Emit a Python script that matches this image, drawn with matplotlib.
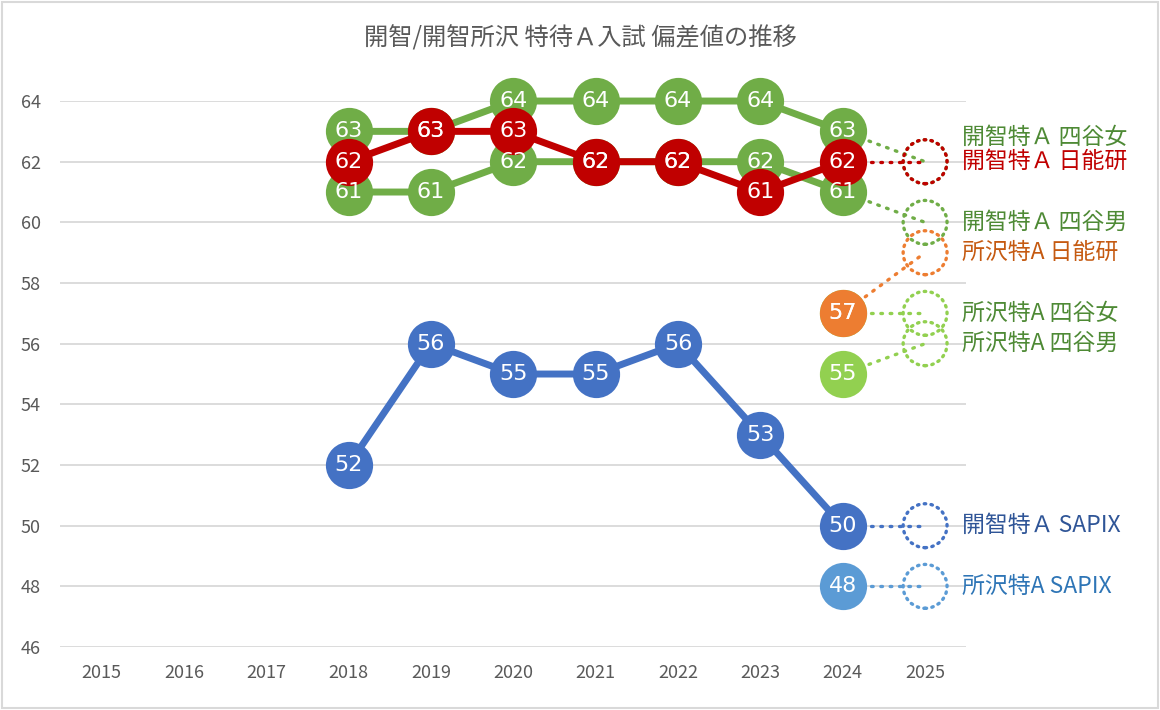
import matplotlib
matplotlib.use("Agg")
import matplotlib.pyplot as plt
from matplotlib.patches import Rectangle

plt.rcParams['font.family'] = ['Noto Sans CJK JP', 'DejaVu Sans']

years = ['2015', '2016', '2017', '2018', '2019', '2020', '2021', '2022', '2023', '2024', '2025']
title = '開智/開智所沢 特待Ａ入試 偏差値の推移'

# series values (None = no data); last entry (2025) is the dotted projection
kaichi_yotsuya_f = [None, None, None, 63, 63, 64, 64, 64, 64, 63, 62]
kaichi_yotsuya_m = [None, None, None, 61, 61, 62, 62, 62, 62, 61, 60]
kaichi_nichinoken = [None, None, None, 62, 63, 63, 62, 62, 61, 62, 62]
kaichi_sapix = [None, None, None, 52, 56, 55, 55, 56, 53, 50, 50]
tokorozawa_nichinoken = [None] * 9 + [57, 59]
tokorozawa_yotsuya_f = [None] * 9 + [57, 57]
tokorozawa_yotsuya_m = [None] * 9 + [55, 56]
tokorozawa_sapix = [None] * 9 + [48, 48]

labels = ['開智特Ａ 四谷女', '開智特Ａ 四谷男', '開智特Ａ 日能研', '開智特Ａ SAPIX',
          '所沢特A 日能研', '所沢特A 四谷女', '所沢特A 四谷男', '所沢特A SAPIX']

# (values, label, marker colour, label colour, label y offset)
series = [
    (kaichi_yotsuya_f, labels[0], '#70AD47', '#4E8A35', 0.8),
    (kaichi_yotsuya_m, labels[1], '#70AD47', '#4E8A35', 0.0),
    (tokorozawa_yotsuya_f, labels[5], '#92D050', '#4E8A35', 0.0),
    (tokorozawa_yotsuya_m, labels[6], '#92D050', '#4E8A35', 0.0),
    (tokorozawa_nichinoken, labels[4], '#ED7D31', '#C55A11', 0.0),
    (kaichi_nichinoken, labels[2], '#C00000', '#C00000', 0.0),
    (kaichi_sapix, labels[3], '#4472C4', '#2F5597', 0.0),
    (tokorozawa_sapix, labels[7], '#5B9BD5', '#2E75B6', 0.0),
]

fig = plt.figure(figsize=(11.6, 7.1), dpi=100)
ax = fig.add_axes([0.052, 0.0887, 0.781, 0.769])
ax.set_xlim(-0.5, len(years) - 0.5)
ax.set_ylim(46, 64)
ax.set_yticks(range(46, 65, 2))
ax.set_xticks(range(len(years)))
ax.set_xticklabels(years)
for s in ax.spines.values():
    s.set_visible(False)
ax.grid(axis='y', color='#D9D9D9', linewidth=1.3)
ax.set_axisbelow(True)
ax.tick_params(axis='both', length=0, labelsize=13, labelcolor='#595959')
ax.tick_params(axis='x', pad=12)
ax.tick_params(axis='y', pad=14)

ms = 34
dots = (0, (0.5, 2.3))
ring_dots = (0, (0.45, 1.6))
texts = []
for k, (vals, lab, col, lcol, off) in enumerate(series):
    xs = [i for i, v in enumerate(vals) if v is not None]
    ys = [vals[i] for i in xs]
    solid_x, solid_y = xs[:-1], ys[:-1]
    z = 3 + k * 0.1
    if len(solid_x) > 1:
        ax.plot(solid_x, solid_y, color=col, linewidth=5, zorder=z,
                solid_capstyle='round', clip_on=False)
    # dotted link to 2025 projection
    ax.plot(xs[-2:], ys[-2:], color=col, linewidth=2.4, linestyle=dots,
            dash_capstyle='round', zorder=z, clip_on=False)
    ax.scatter(solid_x, solid_y, s=ms ** 2, color=col, zorder=z + 0.05, linewidths=0,
               clip_on=False)
    ring = ax.scatter([xs[-1]], [ys[-1]], s=(ms - 2.4) ** 2, facecolors='none',
                      edgecolors=col, linewidths=2.4, linestyles=ring_dots,
                      zorder=z + 0.05, clip_on=False)
    ring.set_capstyle('round')
    for x, y in zip(solid_x, solid_y):
        texts.append((x, y))
    ax.text(xs[-1] + 0.45, ys[-1] + off, lab, color=lcol, fontsize=16.5,
            ha='left', va='center', zorder=10, clip_on=False)

for x, y in texts:
    ax.text(x, y, str(y), color='white', fontsize=16, family='DejaVu Sans',
            ha='center', va='center', zorder=8, clip_on=False)

fig.text(0.5, 0.946, title, ha='center', va='center', fontsize=17.5, color='#595959')
fig.patches.append(Rectangle((0.002, 0.003), 0.996, 0.994, transform=fig.transFigure,
                             fill=False, edgecolor='#D9D9D9', linewidth=1.5))

fig.savefig('out.png', dpi=100)
